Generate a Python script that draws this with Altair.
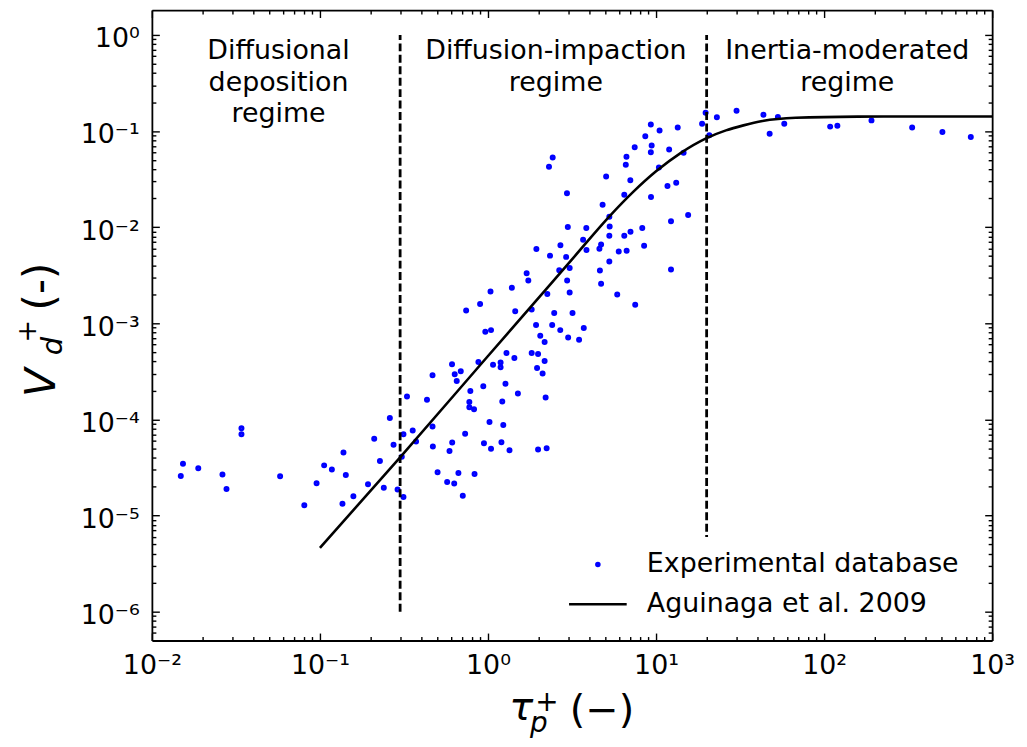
import json
import pandas as pd
import altair as alt

FONT = "DejaVu Sans"

# ---------------- data (log10 of the plotted values) ----------------
# Experimental database, diffusional-deposition side (tau_p+ < ~0.6)
left_log_tau = [-1.828, -1.815, -1.724, -1.580, -1.556, -1.467, -1.467, -1.237, -1.093, -1.020,
                -0.975, -0.929, -0.860, -0.846, -0.866, -0.801, -0.714, -0.677, -0.643, -0.620,
                -0.584, -0.562, -0.538, -0.503, -0.503, -0.482, -0.448, -0.428, -0.363, -0.330,
                -0.330, -0.328, -0.300, -0.513]
left_log_vd = [-4.588, -4.460, -4.509, -4.574, -4.723, -4.092, -4.154, -4.591, -4.894, -4.664,
               -4.478, -4.522, -4.343, -4.578, -4.878, -4.798, -4.674, -4.202, -4.433, -4.712,
               -3.984, -4.264, -4.729, -4.154, -4.806, -3.761, -4.116, -4.230, -3.795, -3.540,
               -4.074, -4.281, -4.550, -4.388]

# around tau_p+ ~ 1
midA_log_tau = [-0.243, -0.201, -0.229, -0.213, -0.176, -0.150, -0.214, -0.198, -0.186, -0.162,
                -0.136, -0.105, -0.111, -0.111, -0.083, -0.080, -0.057, -0.028, -0.024, 0.009,
                0.018, 0.030, -0.016, 0.018]
midA_log_vd = [-4.650, -4.667, -4.328, -4.240, -4.558, -4.795, -3.426, -3.529, -3.599, -3.500,
               -4.149, -3.705, -3.818, -3.873, -3.893, -4.568, -3.402, -3.656, -4.247, -4.026,
               -4.304, -3.431, -3.089, -3.071]

midB_log_tau = [0.288, 0.431, 0.369, 0.465, 0.566, 0.586, 0.663, 0.673, 0.722, 0.811,
                0.848, 0.778, 0.825, 0.929, 0.722, 0.666, 0.673, 0.769, 0.876, 1.089,
                0.230, 0.240, 0.424, 0.486, 0.471, 0.486, 0.353, 0.015, 0.142, -0.047,
                -0.130, 0.162, 0.260, 0.394, 0.503,
                0.286, 0.382, 0.430, 0.570, 0.542, 0.477, 0.311, 0.337, 0.110, 0.157,
                0.260, 0.298, 0.337, 0.292, 0.325, 0.075, 0.075,
                0.104, 0.178, 0.085, 0.343, 0.091,
                0.080, 0.128, 0.298, 0.349]
midB_log_vd = [-2.226, -2.187, -2.296, -2.309, -2.130, -2.237, -2.225, -2.179, -2.089, -2.089,
               -2.048, -2.252, -2.246, -2.194, -2.358, -2.451, -2.588, -2.701, -2.808, -2.441,
               -2.480, -2.556, -2.449, -2.425, -2.556, -2.680, -2.696, -2.670, -2.629, -2.799,
               -2.868, -2.875, -2.857, -2.892, -2.892,
               -3.017, -3.017, -3.071, -3.048, -3.172, -3.147, -3.130, -3.195, -3.309, -3.361,
               -3.309, -3.320, -3.392, -3.464, -3.523, -3.409, -3.457,
               -3.630, -3.730, -3.813, -3.771, -4.057,
               -4.237, -4.320, -4.312, -4.299]

upper_log_tau = [0.385, 0.363, 0.470, 0.703, 0.847, 0.824, 0.820, 0.873, 0.936, 0.969,
                 1.021, 0.974, 0.969, 1.078, 1.129, 1.164, 1.017, 1.068, 1.120, 0.970,
                 0.811, 0.682, 1.089, 1.191, 1.274, 1.295, 1.362, 1.317, 0.722, 0.475,
                 0.585, 0.724, 0.918]
upper_log_vd = [-1.274, -1.372, -1.646, -1.472, -1.513, -1.267, -1.350, -1.169, -1.055, -0.931,
                -0.995, -1.151, -1.220, -1.192, -0.962, -1.225, -1.378, -1.572, -1.538, -1.686,
                -1.662, -1.768, -1.939, -1.874, -0.923, -0.810, -0.856, -1.044, -1.892, -1.999,
                -2.008, -1.994, -2.009]

# inertia-moderated side
right_log_tau = [1.479, 1.639, 1.676, 1.725, 1.763, 2.036, 2.079, 2.282, 2.524, 2.704, 2.873]
right_log_vd = [-0.789, -0.830, -1.027, -0.855, -0.923, -0.954, -0.944, -0.889, -0.962, -1.010, -1.062]

# Aguinaga et al. 2009 curve
curve_log_tau = [-1.0, -0.523, 0.0, 0.5, 0.7255, 0.864, 1.0, 1.15, 1.2976, 1.416, 1.52, 1.633,
                 1.831, 2.2, 2.6, 3.0]
curve_log_vd = [-5.336, -4.395, -3.34, -2.335, -1.882, -1.633, -1.419, -1.224, -1.076, -0.993,
                -0.941, -0.896, -0.862, -0.85, -0.848, -0.848]

# regime boundaries (dashed lines)
boundary_tau = [0.3, 20.0]
boundary_lo = [1e-6, 1e-6]
boundary_hi = [1.0, 1.0]

# regime annotations
regime_labels = ["Diffusional\ndeposition\nregime", "Diffusion-impaction\nregime",
                 "Inertia-moderated\nregime"]
regime_tau = [0.0567, 2.535, 137.4]
regime_vd = [0.565, 0.565, 0.565]

# axis ticks
x_major = [1e-2, 1e-1, 1e0, 1e1, 1e2, 1e3]
x_tick_labels = ["10⁻²", "10⁻¹", "10⁰", "10¹", "10²", "10³"]
y_major = [1e-6, 1e-5, 1e-4, 1e-3, 1e-2, 1e-1, 1e0]
y_tick_labels = ["10⁻⁶", "10⁻⁵", "10⁻⁴", "10⁻³", "10⁻²", "10⁻¹", "10⁰"]

series_exp = "Experimental database"
series_model = "Aguinaga et al. 2009"

# ---------------- tables ----------------
all_log_tau = left_log_tau + midA_log_tau + midB_log_tau + upper_log_tau + right_log_tau
all_log_vd = left_log_vd + midA_log_vd + midB_log_vd + upper_log_vd + right_log_vd
pts = pd.DataFrame({"tau": [10 ** v for v in all_log_tau],
                    "vd": [10 ** v for v in all_log_vd],
                    "series": series_exp})
curve = pd.DataFrame({"tau": [10 ** v for v in curve_log_tau],
                      "vd": [10 ** v for v in curve_log_vd]})
bounds = pd.DataFrame({"tau": boundary_tau, "lo": boundary_lo, "hi": boundary_hi})
regimes_df = pd.DataFrame({"tau": regime_tau, "vd": regime_vd, "label": regime_labels})

x_minor = [round(m * 10.0 ** e, 12) for e in range(-2, 3) for m in range(2, 10)]
y_minor = [round(m * 1e-7, 14) for m in range(6, 10)] + \
          [round(m * 10.0 ** e, 12) for e in range(-6, 0) for m in range(2, 10)]
x_ticks = sorted(x_major + x_minor)
y_ticks = sorted(y_major + y_minor)

x_scale = alt.Scale(type="log", domain=[0.01, 1000], nice=False)
y_scale = alt.Scale(type="log", domain=[10 ** -6.3, 10 ** 0.2585], nice=False)

MAJOR = "abs(log(datum.value)/LN10 - round(log(datum.value)/LN10)) < 0.001"
TICK = {"expr": f"({MAJOR}) ? -7.5 : -4"}


def lab_expr(labels, lo):
    return (f"({MAJOR}) ? {json.dumps(labels, ensure_ascii=False)}"
            f"[round(log(datum.value)/LN10) - ({lo})] : ''")


common_axis = dict(grid=False, domain=True, domainColor="black", domainWidth=1.8,
                   tickColor="black", tickWidth=1.4, title=None,
                   labelFont=FONT, labelFontSize=27, labelColor="black", labelFlush=False,
                   labelOverlap=False, labelBound=False)

ax_bottom = alt.Axis(orient="bottom", values=x_ticks, tickSize=TICK,
                     labelExpr=lab_expr(x_tick_labels, -2), labelPadding=19.2, **common_axis)
ax_top = alt.Axis(orient="top", values=x_ticks, tickSize=TICK, labels=False, **common_axis)
ax_left = alt.Axis(orient="left", values=y_ticks, tickSize=TICK,
                   labelExpr=lab_expr(y_tick_labels, -6), labelPadding=20.2,
                   labelBaseline="alphabetic", labelOffset=12, **common_axis)
ax_right = alt.Axis(orient="right", values=y_ticks, tickSize=TICK, labels=False, **common_axis)

legend = alt.Legend(orient="none", legendX=421, legendY=530, title=None, labelFont=FONT,
                    labelFontSize=27, labelColor="black", labelLimit=0,
                    symbolSize=8.4, symbolStrokeWidth=2.7,
                    labelOffset=35.7, rowPadding=12, padding=14, fillColor="white",
                    symbolOpacity=1)

points = alt.Chart(pts).mark_point(filled=False, size=8, strokeWidth=3.2, opacity=1).encode(
    x=alt.X("tau:Q", scale=x_scale, axis=ax_bottom),
    y=alt.Y("vd:Q", scale=y_scale, axis=ax_left),
    color=alt.Color("series:N", scale=alt.Scale(domain=[series_exp, series_model],
                                                range=["#0000ff", "#000000"]), legend=legend),
    shape=alt.Shape("series:N", scale=alt.Scale(domain=[series_exp, series_model],
                                                range=["circle", "M-20,0H20"]), legend=legend),
)

line = alt.Chart(curve).mark_line(color="black", strokeWidth=2.6, interpolate="monotone").encode(
    x=alt.X("tau:Q", scale=x_scale, axis=ax_top),
    y=alt.Y("vd:Q", scale=y_scale, axis=ax_right),
)

rules = alt.Chart(bounds).mark_rule(color="black", strokeWidth=2.8, strokeDash=[8, 3.5]).encode(
    x=alt.X("tau:Q", scale=x_scale, axis=None),
    y=alt.Y("lo:Q", scale=y_scale, axis=None),
    y2="hi:Q",
)

regimes = alt.Chart(regimes_df).mark_text(font=FONT, fontSize=27, color="black", align="center",
                                          baseline="alphabetic", lineBreak="\n",
                                          lineHeight=32).encode(
    x=alt.X("tau:Q", scale=x_scale, axis=None),
    y=alt.Y("vd:Q", scale=y_scale, axis=None),
    text="label:N",
)

one = pd.DataFrame({"k": [0]})


def piece(text, px, py, size, style="normal", align="left", baseline="alphabetic", angle=0):
    return alt.Chart(one).mark_text(text=text, font=FONT, fontSize=size, fontStyle=style,
                                    align=align, baseline=baseline, angle=angle,
                                    color="black").encode(x=alt.value(px), y=alt.value(py))


titles = [
    piece("τ", 359.3, 714, 40, "italic"),
    piece("p", 380.3, 726, 28, "italic"),
    piece("+", 397.3, 697, 28, align="center", baseline="middle"),
    piece("(−)", 420.3, 717, 40),
    piece("V", -97.7, 389, 42, "italic", angle=270),
    piece("d", -90.7, 347, 29, "italic", angle=270),
    piece("+", -124.7, 323, 27, align="center", baseline="middle", angle=270),
    piece("(-)", -98.3, 302, 42, angle=270),
]

chart = alt.layer(points, line, rules, regimes, *titles).resolve_axis(
    x="independent", y="independent"
).properties(
    width=845, height=634,
    autosize=alt.AutoSizeParams(type="none"),
    padding={"left": 144.7, "top": 0, "right": 27, "bottom": 105},
).configure_view(stroke=None).configure(background="white")

chart.save("out.html", embed_options={"renderer": "svg", "actions": False})
